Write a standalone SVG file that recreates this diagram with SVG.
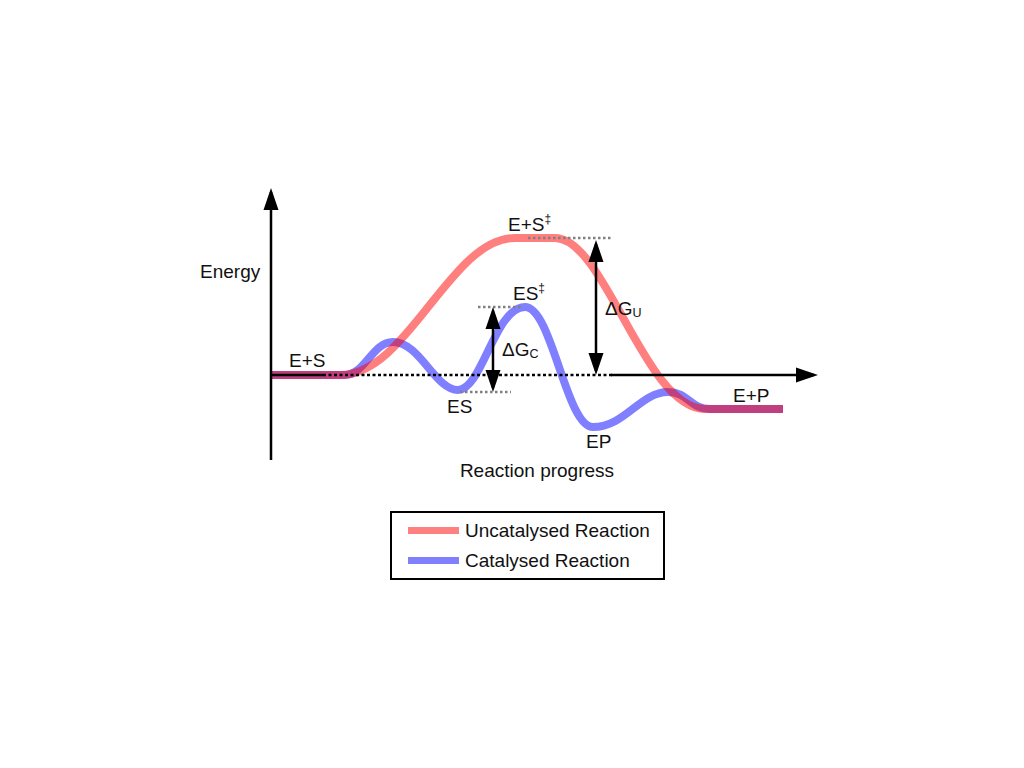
<svg xmlns="http://www.w3.org/2000/svg" width="1024" height="768" viewBox="0 0 1024 768">
<defs>
<style>
text{font-family:"Liberation Sans",Arial,sans-serif;font-size:19px;fill:#111}
.sup{font-size:12px}
.sub{font-size:12.5px}
.axis{stroke:#000;stroke-width:2.5;fill:none}
.dotk{stroke:#000;stroke-width:2.5;stroke-dasharray:3 2.5;fill:none}
.dotg{stroke:#808080;stroke-width:2.5;stroke-dasharray:2.5 2.5;fill:none}
.arr{stroke:#000;stroke-width:2.5;fill:none}
.red{stroke:#ff0000;stroke-opacity:0.5;stroke-width:8;fill:none;stroke-linejoin:round}
.blue{stroke:#0000ff;stroke-opacity:0.5;stroke-width:8;fill:none;stroke-linejoin:round}
</style>
<marker id="ah" markerWidth="24" markerHeight="16" refX="18" refY="8" orient="auto-start-reverse" markerUnits="userSpaceOnUse">
<path d="M0,0.5 L22,8 L0,15.5 Z" fill="#000"/>
</marker>
</defs>
<rect width="1024" height="768" fill="#fff"/>

<g id="curves">
<path id="catalysed" class="blue" d="M271,375 L345,375 C365,375 372,342 393,342 C420,342 435,390 458,390 C482,390 495,307 525,307 C552,307 566,427 593,427 C625,427 640,392 668,392 C688,392 690,409 710,409 L783,409"/>
<path id="uncatalysed" class="red" d="M271,375 L340,375 C408,375 450,238 515,238 L555,238 C605,238 645,409 705,409 L783,409"/>
</g>

<g id="levels">
<line class="dotg" x1="528" y1="238" x2="613" y2="238"/>
<line class="dotg" x1="478" y1="307" x2="522" y2="307"/>
<line class="dotg" x1="460" y1="392" x2="511" y2="392"/>
</g>

<g id="axes">
<line class="axis" x1="271" y1="460" x2="271" y2="192" marker-end="url(#ah)"/>
<line class="axis" x1="271" y1="375" x2="323" y2="375"/>
<line class="dotk" x1="323" y1="375" x2="613" y2="375"/>
<line class="axis" x1="611" y1="375" x2="814" y2="375" marker-end="url(#ah)"/>
<text x="200" y="278">Energy</text>
<text x="537" y="477" text-anchor="middle">Reaction progress</text>
</g>

<g id="connectors">
<line class="arr" x1="493" y1="311" x2="493" y2="388" marker-start="url(#ah)" marker-end="url(#ah)"/>
<line class="arr" x1="596" y1="244" x2="596" y2="371" marker-start="url(#ah)" marker-end="url(#ah)"/>
</g>

<g id="labels">
<g id="node-ES0"><text x="289" y="367">E+S</text></g>
<g id="node-ES"><text x="447" y="413">ES</text></g>
<g id="node-EP"><text x="586" y="448">EP</text></g>
<g id="node-EP2"><text x="733" y="402">E+P</text></g>
<g id="node-ESTS-u"><text x="508" y="231">E+S<tspan class="sup" dy="-8">‡</tspan></text></g>
<g id="node-ESTS-c"><text x="513" y="300">ES<tspan class="sup" dy="-8">‡</tspan></text></g>
<g id="node-dGC"><text x="502" y="356">ΔG<tspan class="sub" dy="2">C</tspan></text></g>
<g id="node-dGU"><text x="605" y="315">ΔG<tspan class="sub" dy="2">U</tspan></text></g>
</g>

<g id="legend">
<rect x="391" y="512" width="273" height="67" fill="#fff" stroke="#000" stroke-width="2"/>
<line x1="408" y1="530.5" x2="459" y2="530.5" stroke="#ff8080" stroke-width="7"/>
<line x1="408" y1="560.5" x2="459" y2="560.5" stroke="#8080ff" stroke-width="7"/>
<text x="465" y="537">Uncatalysed Reaction</text>
<text x="465" y="567">Catalysed Reaction</text>
</g>
</svg>
